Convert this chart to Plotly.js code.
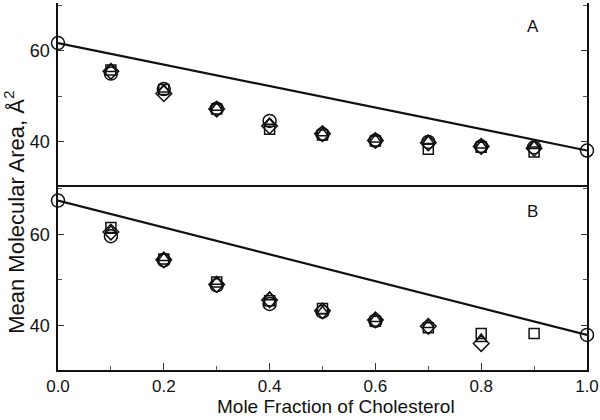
<!DOCTYPE html>
<html>
<head>
<meta charset="utf-8">
<script src="https://cdn.plot.ly/plotly-3.0.1.min.js"></script>
<style>body{margin:0;background:#fff}#chart{width:600px;height:420px}</style>
</head>
<body>
<div id="chart"></div>
<script>
// Mole fraction of cholesterol
const xFrac = [0.1, 0.2, 0.3, 0.4, 0.5, 0.6, 0.7, 0.8, 0.9];
// Panel A series
const aCircle   = [55.0, 51.6, 47.3, 44.6, 41.7, 40.3, 40.0, 39.0, 38.8];
const aSquare   = [55.8, 51.5, 47.2, 42.8, 41.5, 40.2, 38.4, 38.8, 37.8];
const aDiamond  = [55.5, 50.6, 47.2, 43.5, 41.8, 40.3, 39.8, 39.0, 38.6];
const aTriangle = [56.0, 51.5, 47.5, 44.0, 41.9, 40.5, 40.2, 39.2, 39.1];
// Panel B series
const bCircle   = [59.6, 54.3, 48.8, 44.7, 43.0, 41.0, null, null, null];
const bSquare   = [61.5, 54.6, 49.5, 45.4, 43.7, 40.9, 39.5, 38.2, 38.2];
const bDiamond  = [60.5, 54.4, 49.0, 45.6, 43.2, 41.2, 39.8, 36.0, null];
const bTriangle = [60.8, 54.8, 49.6, 46.2, 43.1, 41.4, 40.1, 37.0, null];
// Pure components and ideal-mixing lines
const xEnds = [0.0, 1.0];
const aEnds = [61.7, 38.1];
const bEnds = [67.4, 37.9];

const xTickVals = [0, 0.2, 0.4, 0.6, 0.8, 1.0];
const xTickText = ['0.0', '0.2', '0.4', '0.6', '0.8', '1.0'];

const mk = (sym, size) => ({symbol: sym, size: size, color: '#111',
  line: {color: '#111', width: 1.5}});

const traces = [];
function panel(yaxis, circ, sq, dia, tri, ends) {
  traces.push({x: xEnds, y: ends, yaxis: yaxis, type: 'scatter', mode: 'lines',
    line: {color: '#111', width: 2.2}, cliponaxis: false, hoverinfo: 'skip'});
  traces.push({x: xEnds, y: ends, yaxis: yaxis, type: 'scatter', mode: 'markers',
    marker: mk('circle-open', 13), cliponaxis: false});
  traces.push({x: xFrac, y: circ, yaxis: yaxis, type: 'scatter', mode: 'markers',
    marker: mk('circle-open', 13), cliponaxis: false});
  traces.push({x: xFrac, y: sq, yaxis: yaxis, type: 'scatter', mode: 'markers',
    marker: mk('square-open', 10), cliponaxis: false});
  traces.push({x: xFrac, y: dia, yaxis: yaxis, type: 'scatter', mode: 'markers',
    marker: mk('diamond-open', 12), cliponaxis: false});
  traces.push({x: xFrac, y: tri, yaxis: yaxis, type: 'scatter', mode: 'markers',
    marker: mk('triangle-up-open', 10), cliponaxis: false});
}
panel('y2', aCircle, aSquare, aDiamond, aTriangle, aEnds);
panel('y', bCircle, bSquare, bDiamond, bTriangle, bEnds);

const font = {family: 'Liberation Sans, Arial, sans-serif', color: '#111'};
const yCommon = {
  range: [30.2, 70.5], tick0: 0, dtick: 20, ticks: 'inside', ticklen: 6,
  tickcolor: '#333', showline: true, linecolor: '#111', linewidth: 1.6,
  mirror: 'ticks', showgrid: false, zeroline: false,
  tickfont: {family: font.family, size: 18, color: '#111'},
  minor: {dtick: 10, ticks: 'inside', ticklen: 4, tickcolor: '#555', showgrid: false},
  ticklabelstandoff: 3
};

const layout = {
  width: 600, height: 420,
  margin: {l: 58, r: 13, t: 3, b: 50},
  paper_bgcolor: '#fff', plot_bgcolor: '#fff',
  showlegend: false,
  font: font,
  xaxis: {
    range: [0, 1], anchor: 'y', tickvals: xTickVals, ticktext: xTickText,
    ticks: 'inside', ticklen: 7, tickcolor: '#333',
    minor: {dtick: 0.1, tick0: 0, ticks: 'inside', ticklen: 4, tickcolor: '#555', showgrid: false},
    showline: true, linecolor: '#111', linewidth: 1.6, mirror: true,
    showgrid: false, zeroline: false,
    tickfont: {family: font.family, size: 17, color: '#111'},
    ticklabelstandoff: 0
  },
  xaxis2: {
    range: [0, 1], anchor: 'y2', overlaying: 'x', side: 'top', matches: 'x',
    tickvals: xTickVals, showticklabels: false,
    ticks: 'inside', ticklen: 7, tickcolor: '#333',
    minor: {dtick: 0.1, tick0: 0, ticks: 'inside', ticklen: 4, tickcolor: '#555', showgrid: false},
    showline: true, linecolor: '#111', linewidth: 1.6, mirror: true,
    showgrid: false, zeroline: false
  },
  yaxis: Object.assign({domain: [0, 0.5], anchor: 'x'}, yCommon),
  yaxis2: Object.assign({domain: [0.5, 1], anchor: 'x'}, yCommon),
  annotations: [
    {text: 'Mole Fraction of Cholesterol', xref: 'paper', yref: 'paper',
     x: 0.525, y: -0.134, xanchor: 'center', yanchor: 'bottom', showarrow: false,
     font: {family: font.family, size: 19, color: '#111'}},
    {text: 'Mean Molecular Area, Å<sup>2</sup>', xref: 'paper', yref: 'paper',
     x: -0.082, y: 0.43, xanchor: 'center', yanchor: 'middle', textangle: -90,
     showarrow: false, font: {family: font.family, size: 22, color: '#111'}},
    {text: 'A', xref: 'paper', yref: 'paper', x: 0.897, y: 0.935,
     showarrow: false, xanchor: 'center', yanchor: 'middle',
     font: {family: font.family, size: 17, color: '#111'}},
    {text: 'B', xref: 'paper', yref: 'paper', x: 0.897, y: 0.432,
     showarrow: false, xanchor: 'center', yanchor: 'middle',
     font: {family: font.family, size: 17, color: '#111'}}
  ]
};

Plotly.newPlot('chart', traces, layout, {displayModeBar: false, staticPlot: true});
</script>
</body>
</html>
